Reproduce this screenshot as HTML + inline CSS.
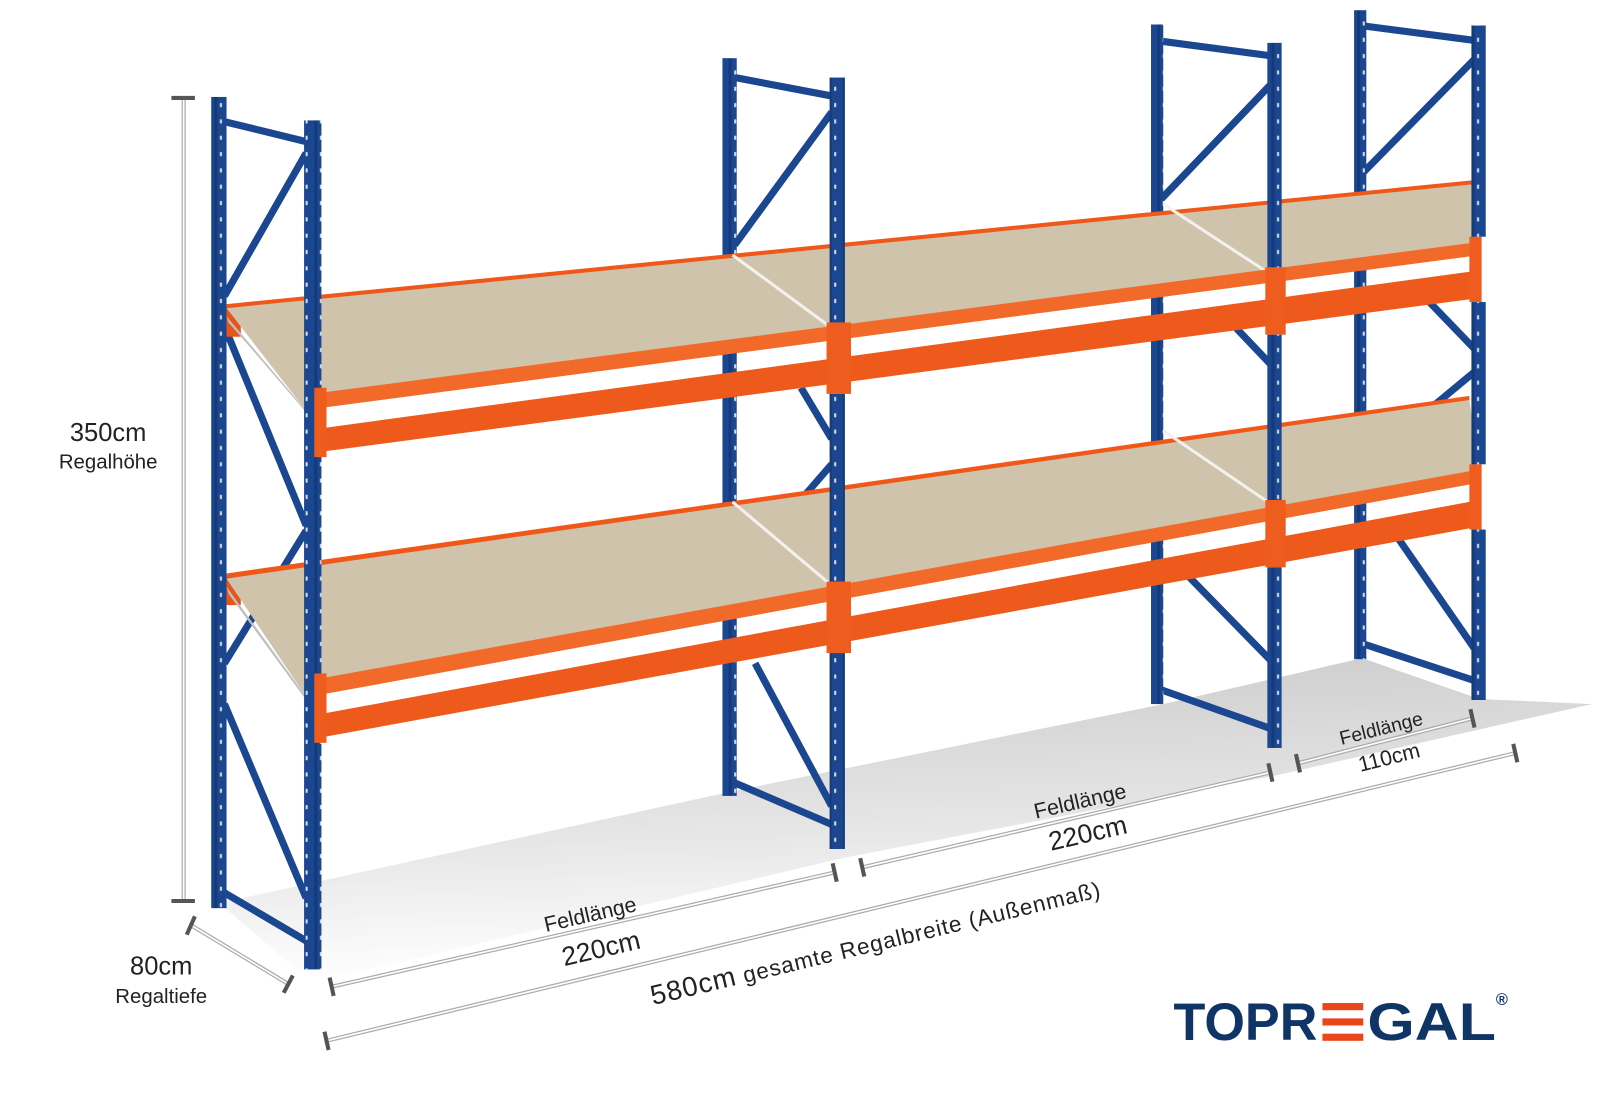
<!DOCTYPE html>
<html><head><meta charset="utf-8"><style>
html,body{margin:0;padding:0;background:#fff;}
svg{display:block;}
text{font-family:"Liberation Sans",sans-serif;fill:#222;}
</style></head><body>
<svg width="1600" height="1100" viewBox="0 0 1568 1078" xmlns="http://www.w3.org/2000/svg">
<defs>
<linearGradient id="sh" x1="0" y1="0" x2="0.15" y2="1">
<stop offset="0" stop-color="#c4c4c4"/><stop offset="0.6" stop-color="#e4e4e4"/><stop offset="1" stop-color="#fff"/>
</linearGradient>
<pattern id="holes" width="14" height="16" patternUnits="userSpaceOnUse">
<rect width="14" height="16" fill="#1b4690"/>
<rect x="0" width="3" height="16" fill="#143a78"/>
<rect x="5.5" y="5" width="2" height="4" fill="#d8dde8"/>
</pattern>
</defs>
<polygon points="215,885 720,775 1140,690 1335,645 1450,685 1560,690 1250,760 830,840 320,960 290,950" fill="url(#sh)" opacity="0.9"/>

<g stroke="#1b4690" stroke-width="7" stroke-linecap="butt">
<line x1="215" y1="118" x2="305" y2="140"/>
<line x1="220" y1="290" x2="300" y2="150"/>
<line x1="220" y1="320" x2="300" y2="515"/>
<line x1="220" y1="650" x2="300" y2="520"/>
<line x1="220" y1="690" x2="300" y2="880"/>
<line x1="215" y1="872" x2="305" y2="925"/>
<line x1="715" y1="75" x2="820" y2="95"/>
<line x1="720" y1="240" x2="815" y2="110"/>
<line x1="750" y1="530" x2="815" y2="455"/>
<line x1="785" y1="380" x2="815" y2="430"/>
<line x1="740" y1="650" x2="815" y2="790"/>
<line x1="715" y1="765" x2="820" y2="810"/>
<line x1="1135" y1="40" x2="1248" y2="55"/>
<line x1="1138" y1="195" x2="1248" y2="80"/>
<line x1="1210" y1="320" x2="1248" y2="360"/>
<line x1="1160" y1="560" x2="1248" y2="650"/>
<line x1="1135" y1="675" x2="1248" y2="715"/>
<line x1="1333" y1="25" x2="1448" y2="40"/>
<line x1="1335" y1="170" x2="1448" y2="55"/>
<line x1="1395" y1="290" x2="1448" y2="345"/>
<line x1="1372" y1="425" x2="1448" y2="362"/>
<line x1="1365" y1="520" x2="1448" y2="640"/>
<line x1="1333" y1="630" x2="1448" y2="668"/>
</g>
<rect x="207" y="95" width="15" height="795" fill="url(#holes)"/>
<rect x="708" y="57" width="14" height="723" fill="url(#holes)"/>
<rect x="1128" y="24" width="12" height="666" fill="url(#holes)"/>
<rect x="1327" y="10" width="12" height="636" fill="url(#holes)"/>

<polygon points="222,298 1450,176 1450,184 222,310" fill="#f0581a"/>
<polygon points="222,562 1440,388 1440,396 222,575" fill="#f0581a"/>
<rect x="222" y="300" width="14" height="30" fill="#e8551a"/>
<rect x="222" y="565" width="14" height="28" fill="#e8551a"/>

<polygon points="222,302 1450,180 1450,242 313,390 298,400" fill="#cfc3ab"/>
<polygon points="222,310 298,400 300,404 224,316" fill="#bfbfbf"/>
<polygon points="222,567 1440,392 1450,464 313,670 298,680" fill="#cfc3ab"/>
<polygon points="222,575 298,680 300,686 224,582" fill="#bfbfbf"/>
<g stroke="#f4f1ec" stroke-width="3">
<line x1="718" y1="250" x2="820" y2="325"/>
<line x1="1140" y1="200" x2="1250" y2="272"/>
<line x1="718" y1="492" x2="820" y2="578"/>
<line x1="1140" y1="422" x2="1250" y2="497"/>
</g>

<polygon points="313,385 1450,237 1450,250 313,400" fill="#f26a2a"/>
<polygon points="313,420 1450,265 1450,292 313,443" fill="#ee5a1c"/>
<polygon points="313,665 1450,460 1450,473 313,681" fill="#f26a2a"/>
<polygon points="313,700 1450,490 1450,516 313,723" fill="#ee5a1c"/>
<g fill="#ef5d1e">
<rect x="310" y="380" width="10" height="68"/><rect x="810" y="316" width="24" height="70"/><rect x="1240" y="262" width="20" height="66"/><rect x="1440" y="232" width="12" height="64"/>
<rect x="310" y="660" width="10" height="68"/><rect x="810" y="570" width="24" height="70"/><rect x="1240" y="490" width="20" height="66"/><rect x="1440" y="455" width="12" height="64"/>
</g>
<rect x="298" y="118" width="17" height="832" fill="url(#holes)"/>
<rect x="813" y="76" width="15" height="240" fill="url(#holes)"/>
<rect x="813" y="386" width="15" height="184" fill="url(#holes)"/>
<rect x="813" y="640" width="15" height="192" fill="url(#holes)"/>
<rect x="1242" y="42" width="14" height="220" fill="url(#holes)"/>
<rect x="1242" y="328" width="14" height="162" fill="url(#holes)"/>
<rect x="1242" y="556" width="14" height="177" fill="url(#holes)"/>
<rect x="1442" y="25" width="14" height="207" fill="url(#holes)"/>
<rect x="1442" y="296" width="14" height="159" fill="url(#holes)"/>
<rect x="1442" y="519" width="14" height="167" fill="url(#holes)"/>
<g fill="#ef5d1e">
<rect x="308" y="380" width="8" height="68"/><rect x="308" y="660" width="8" height="68"/>
</g>

<g fill="none">
<g stroke="#aaa" stroke-width="4">
<line x1="180" y1="96" x2="180" y2="883"/>
<line x1="186" y1="906" x2="282" y2="964"/>
<line x1="325" y1="967" x2="818" y2="855"/>
<line x1="845" y1="850" x2="1245" y2="757"/>
<line x1="1272" y1="748" x2="1443" y2="704"/>
<line x1="320" y1="1020" x2="1485" y2="738"/>
</g>
<g stroke="#fff" stroke-width="1.6">
<line x1="180" y1="96" x2="180" y2="883"/>
<line x1="186" y1="906" x2="282" y2="964"/>
<line x1="325" y1="967" x2="818" y2="855"/>
<line x1="845" y1="850" x2="1245" y2="757"/>
<line x1="1272" y1="748" x2="1443" y2="704"/>
<line x1="320" y1="1020" x2="1485" y2="738"/>
</g>
<g stroke="#555" stroke-width="4">
<line x1="168" y1="96" x2="191" y2="96"/><line x1="168" y1="883" x2="191" y2="883"/>
<line x1="183" y1="916" x2="191" y2="898"/><line x1="278" y1="973" x2="287" y2="956"/>
<line x1="323" y1="958" x2="327" y2="976"/><line x1="816" y1="846" x2="820" y2="864"/>
<line x1="843" y1="841" x2="847" y2="859"/><line x1="1243" y1="748" x2="1247" y2="766"/>
<line x1="1270" y1="739" x2="1274" y2="757"/><line x1="1441" y1="695" x2="1445" y2="713"/>
<line x1="318" y1="1011" x2="322" y2="1029"/><line x1="1483" y1="729" x2="1487" y2="747"/>
</g>
</g>

<text x="106" y="432" font-size="25" text-anchor="middle">350cm</text>
<text x="106" y="459" font-size="20" text-anchor="middle">Regalhöhe</text>
<text x="158" y="955" font-size="25" text-anchor="middle">80cm</text>
<text x="158" y="983" font-size="20" text-anchor="middle">Regaltiefe</text>
<text transform="translate(580,903) rotate(-13)" font-size="21" text-anchor="middle">Feldlänge</text>
<text transform="translate(591,938) rotate(-13)" font-size="26" text-anchor="middle">220cm</text>
<text transform="translate(1060,792) rotate(-13)" font-size="21" text-anchor="middle">Feldlänge</text>
<text transform="translate(1068,825) rotate(-13)" font-size="26" text-anchor="middle">220cm</text>
<text transform="translate(1355,720) rotate(-14)" font-size="19" text-anchor="middle">Feldlänge</text>
<text transform="translate(1363,749) rotate(-14)" font-size="21" text-anchor="middle">110cm</text>
<text transform="translate(640,985) rotate(-13.6)" font-size="22" textLength="452" lengthAdjust="spacing"><tspan font-size="27">580cm</tspan> gesamte Regalbreite (Außenmaß)</text>

<text x="1150" y="1019" font-size="52" font-weight="bold" style="fill:#0e3566" textLength="141" lengthAdjust="spacingAndGlyphs">TOPR</text>
<g fill="#e9461a">
<rect x="1296" y="983" width="40" height="7"/><rect x="1296" y="998" width="40" height="7"/><rect x="1296" y="1013" width="40" height="7"/>
</g>
<text x="1340" y="1019" font-size="52" font-weight="bold" style="fill:#0e3566" textLength="126" lengthAdjust="spacingAndGlyphs">GAL</text>
<text x="1466" y="985" font-size="16" font-weight="bold" style="fill:#0e3566">®</text>
</svg>
</body></html>
